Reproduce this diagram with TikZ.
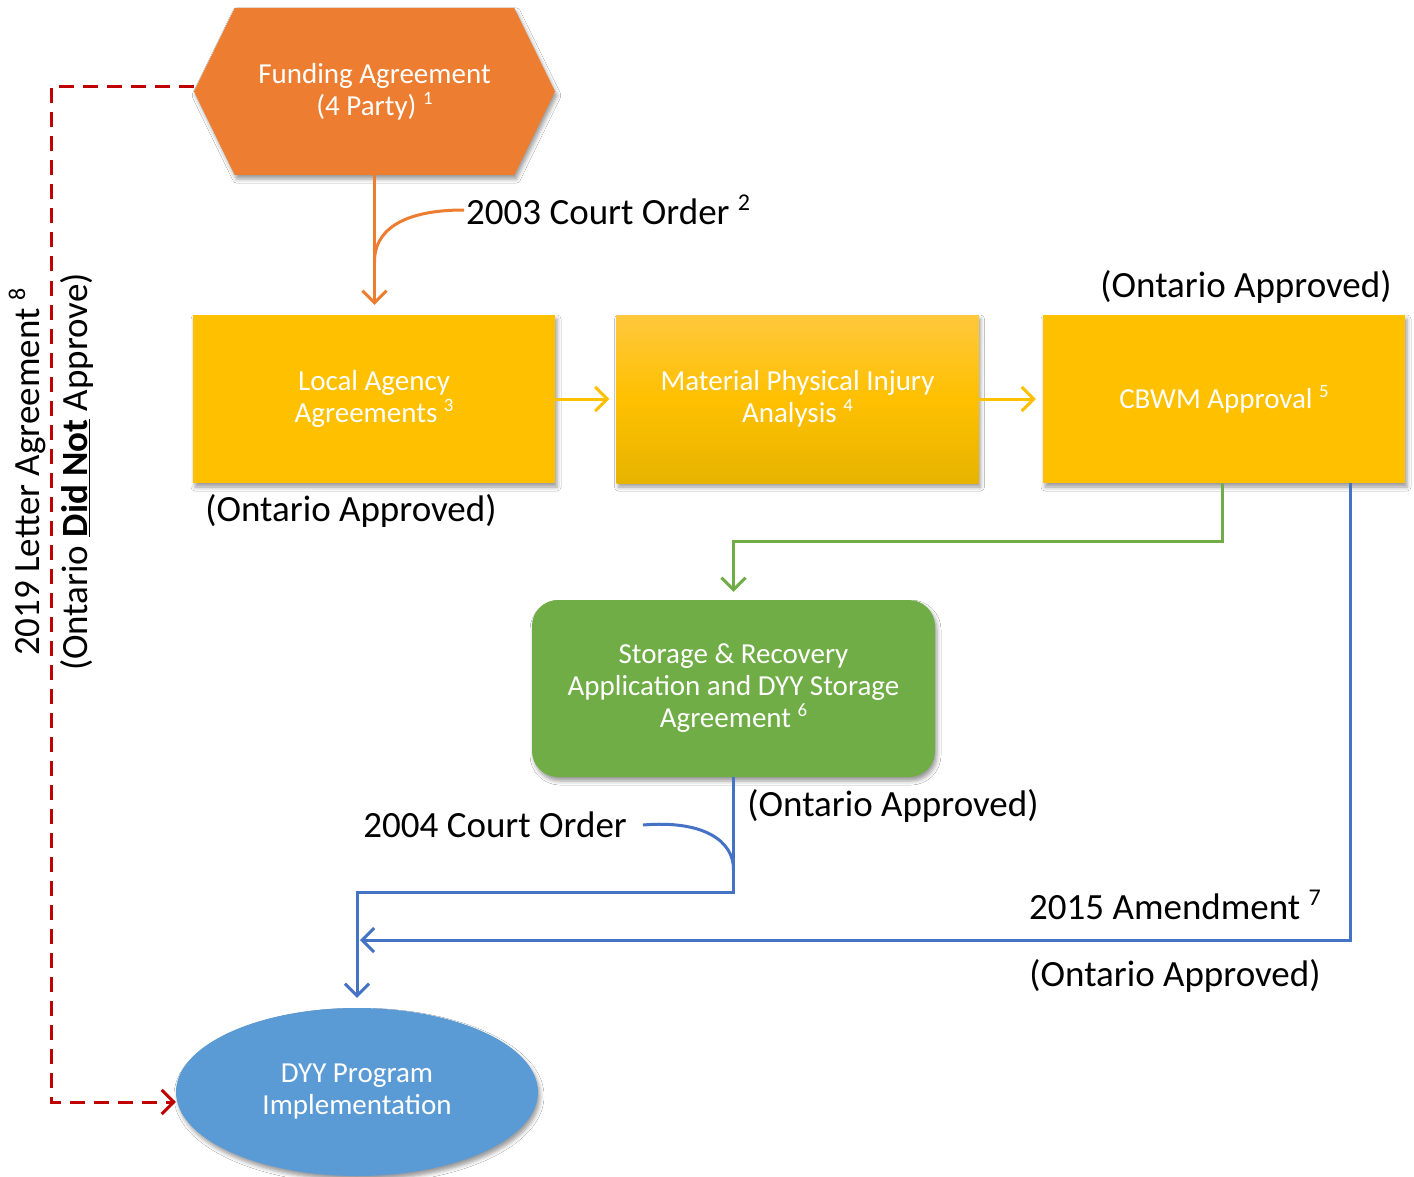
\documentclass[tikz,border=0pt]{standalone}
\usepackage{fontspec}
\setmainfont{Carlito}
\usetikzlibrary{arrows.meta,shapes.geometric,shapes.symbols,shadows.blur,calc}
\definecolor{orangeF}{HTML}{ED7D31}
\definecolor{goldF}{HTML}{FFC000}
\definecolor{goldL}{HTML}{FFC83D}
\definecolor{goldD}{HTML}{E6B400}
\definecolor{greenF}{HTML}{70AD47}
\definecolor{blueL}{HTML}{4472C4}
\definecolor{blueF}{HTML}{5B9BD5}
\definecolor{redD}{HTML}{C00000}
\newcommand\mysup[1]{\raisebox{0.38em}{\scalebox{0.65}{#1}}}
\begin{document}
\begin{tikzpicture}[x=1pt,y=-1pt,
  boxtext/.style={text=white, font=\fontsize{29}{32}\selectfont, align=center, inner sep=0pt},
  shad/.style={blur shadow={shadow xshift=2pt, shadow yshift=-4pt, shadow blur radius=4pt, shadow opacity=40}},
  ybox/.style={rectangle, fill=goldF, minimum width=362, minimum height=168, boxtext, shad},
  lbl/.style={font=\fontsize{37}{48}\selectfont, text=black, inner sep=2pt},
  tip/.style={-{Straight Barb[length=12pt,width=24pt]}},
  oconn/.style={draw=orangeF, line width=3pt},
  yconn/.style={draw=goldF, line width=3pt},
  gconn/.style={draw=greenF, line width=3pt},
  bconn/.style={draw=blueL, line width=3pt},
  rconn/.style={draw=redD, line width=3pt, dash pattern=on 15pt off 9pt}]
\useasboundingbox (0,0) rectangle (1414,1177);
\fill[white] (0,0) rectangle (1414,1177);

% nodes
\node[signal, signal to=west and east, signal pointer angle=128, fill=orangeF,
      minimum width=361, minimum height=167, boxtext, shad] (fund) at (374.5,91.5)
      {Funding Agreement\\(4 Party) \mysup{1}};
\node[ybox] (local) at (374,399) {Local Agency\\Agreements \mysup{3}};
\node[ybox, top color=goldL, bottom color=goldD, middle color=goldF] (mpi) at (797.5,399)
      {Material Physical Injury\\Analysis \mysup{4}};
\node[ybox] (cbwm) at (1224,399) {CBWM Approval \mysup{5}};
\node[rectangle, rounded corners=26pt, fill=greenF, minimum width=403, minimum height=177,
      boxtext, shad] (stor) at (733.5,688.5)
      {Storage \& Recovery\\Application and DYY Storage\\Agreement \mysup{6}};
\node[ellipse, fill=blueF, minimum width=362, minimum height=168, boxtext, shad] (dyy) at (357,1092)
      {DYY Program\\Implementation};

% labels
\node[lbl, anchor=west] (c03) at (464,210) {2003 Court Order \mysup{2}};
\node[lbl] (oa1) at (1246,287) {(Ontario Approved)};
\node[lbl] (oa2) at (351,511) {(Ontario Approved)};
\node[lbl, anchor=east] (c04) at (629,825) {2004 Court Order};
\node[lbl] (oa3) at (893,806) {(Ontario Approved)};
\node[lbl] (amd) at (1175,905) {2015 Amendment \mysup{7}};
\node[lbl] (oa4) at (1175,976) {(Ontario Approved)};
\node[lbl, rotate=90, align=center] (ltr) at (51,472)
      {2019 Letter Agreement \mysup{8}\\(Ontario \underline{\textbf{Did Not}} Approve)};

% connectors
\coordinate (oj) at (fund.south |- 0,262);
\draw[oconn, tip, shorten >=10pt] (fund.south) -- (fund.south |- local.north);
\draw[oconn] (c03.west) .. controls (400,210) and (374,232) .. (oj);
\draw[yconn, tip, shorten >=7pt] (local.east) -- (mpi.west);
\draw[yconn, tip, shorten >=7pt] (mpi.east) -- (cbwm.east -| cbwm.west);
\coordinate (cg) at ($(cbwm.south west)+(180,0)$);
\coordinate (cb) at ($(cbwm.south west)+(308,0)$);
\draw[gconn, tip, shorten >=8pt] (cg) -- ++(0,58) -| (stor.north);
\draw[bconn, tip, shorten >=10pt] (stor.south) -- ++(0,115) -| (dyy.north);
\coordinate (bj) at (dyy.north |- 0,940);
\draw[bconn, tip, shorten >=3pt] (cb) |- (bj);
\coordinate (bj2) at (stor.south |- 0,870);
\draw[bconn] ([xshift=14pt]c04.east) .. controls (702,820) and (734,840) .. (bj2);
\draw[rconn, tip] ([yshift=5pt]fund.west) -- ++(-142,0) |- ([yshift=-10pt]dyy.west);
\end{tikzpicture}
\end{document}
